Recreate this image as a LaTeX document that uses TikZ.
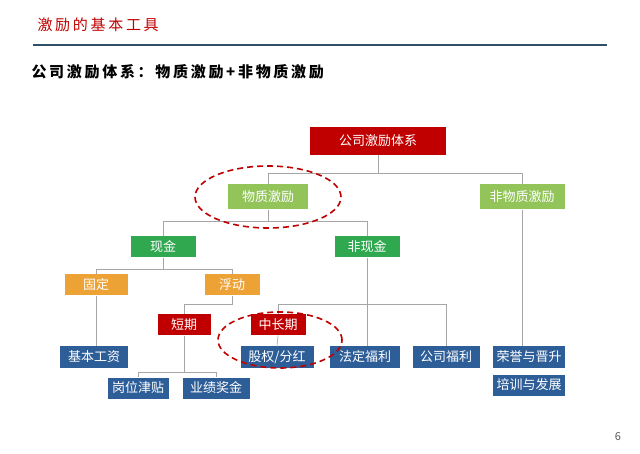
\documentclass[tikz,border=0pt]{standalone}
\usepackage{fontspec}
\newfontfamily\cjk{Noto Sans CJK SC}
\newfontfamily\cjkwide[LetterSpace=18]{Noto Sans CJK SC}
\definecolor{darkred}{HTML}{C00000}
\definecolor{lightgreen}{HTML}{92C45A}
\definecolor{midgreen}{HTML}{2FA84F}
\definecolor{orangebox}{HTML}{EDA236}
\definecolor{bluebox}{HTML}{2E5E98}
\definecolor{rulecolor}{HTML}{2F5066}
\tikzset{
  box/.style={text=white, minimum height=21pt, inner sep=1pt, font=\cjk\fontsize{13}{15}\selectfont},
  redbox/.style={box, fill=darkred},
  lgbox/.style={box, fill=lightgreen},
  mgbox/.style={box, fill=midgreen},
  orbox/.style={box, fill=orangebox},
  blbox/.style={box, fill=bluebox},
  tree/.style={draw=gray!70, line width=0.6pt},
  ring/.style={draw=darkred, dashed, line width=1.6pt, dash pattern=on 6pt off 4pt}
}
\begin{document}
\begin{tikzpicture}[x=1pt, y=-1pt]
  \useasboundingbox[fill=white] (0, 0) rectangle (640, 454);

  \node[anchor=west, text=darkred, font=\cjkwide\fontsize{15}{17}\selectfont] (title) at (34, 25) {激励的基本工具};
  \draw[rulecolor, line width=1.4pt] (33, 45) -- (607, 45);
  \node[anchor=west, font=\cjkwide\bfseries\fontsize{15}{17}\selectfont] (sub) at (28, 72) {公司激励体系：物质激励+非物质激励};
  \node[font=\cjk\fontsize{11}{13}\selectfont, text=gray!70!black] (page) at (618, 437) {6};

  % boxes
  \node[redbox, minimum width=136pt, minimum height=28pt] (root) at (378, 141) {公司激励体系};
  \node[lgbox, minimum width=80pt, minimum height=25pt] (wz) at (268, 197) {物质激励};
  \node[lgbox, minimum width=85pt, minimum height=25pt] (fwz) at (522, 197) {非物质激励};
  \node[mgbox, minimum width=65pt] (xj) at (163, 247) {现金};
  \node[mgbox, minimum width=65pt] (fxj) at (367, 247) {非现金};
  \node[orbox, minimum width=63pt] (gd) at (96, 285) {固定};
  \node[orbox, minimum width=55pt] (fd) at (232, 285) {浮动};
  \node[redbox, minimum width=53pt] (dq) at (184, 325) {短期};
  \node[redbox, minimum width=55pt] (zcq) at (278, 325) {中长期};
  \node[blbox, minimum width=68pt] (jbgz) at (94, 357) {基本工资};
  \node[blbox, minimum width=73pt] (gq) at (277, 357) {股权/分红};
  \node[blbox, minimum width=70pt] (fdfl) at (365, 357) {法定福利};
  \node[blbox, minimum width=67pt] (gsfl) at (446, 357) {公司福利};
  \node[blbox, minimum width=72pt] (ry) at (529, 357) {荣誉与晋升};
  \node[blbox, minimum width=72pt] (px) at (529, 385) {培训与发展};
  \node[blbox, minimum width=61pt] (gw) at (138, 388) {岗位津贴};
  \node[blbox, minimum width=67pt] (yj) at (216, 388) {业绩奖金};

  % tree lines
  \draw[tree] (root.south) -- ++(0, 18) coordinate (j1);
  \draw[tree] (wz.north) |- (j1) -| (fwz.north);
  \draw[tree] (wz.south) -- ++(0, 12) coordinate (j2);
  \draw[tree] (xj.north) |- (j2) -| (fxj.north);
  \draw[tree] (xj.south) -- ++(0, 12) coordinate (j3);
  \draw[tree] (gd.north) |- (j3) -| (fd.north);
  \draw[tree] (fd.south) -- ++(0, 9) coordinate (j4);
  \draw[tree] (j4) -| (dq.north);
  \draw[tree] (fxj.south) -- (fxj.south |- fdfl.north);
  \draw[tree] (zcq.north) |- ++(0, -10) coordinate (j5) -| (gsfl.north);
  \draw[tree] (zcq.south) -- (gq.north);
  \draw[tree] (gd.south) -- (gd.south |- jbgz.north);
  \draw[tree] (dq.south) -- ++(0, 37) coordinate (j6);
  \draw[tree] (gw.north) |- (j6) -| (yj.north);
  \draw[tree] (fwz.south) -- (fwz.south |- ry.north);

  % highlight rings
  \draw[ring] (wz) ellipse (73pt and 31pt);
  \draw[ring] (280, 340) ellipse (62pt and 28pt);
\end{tikzpicture}
\end{document}
